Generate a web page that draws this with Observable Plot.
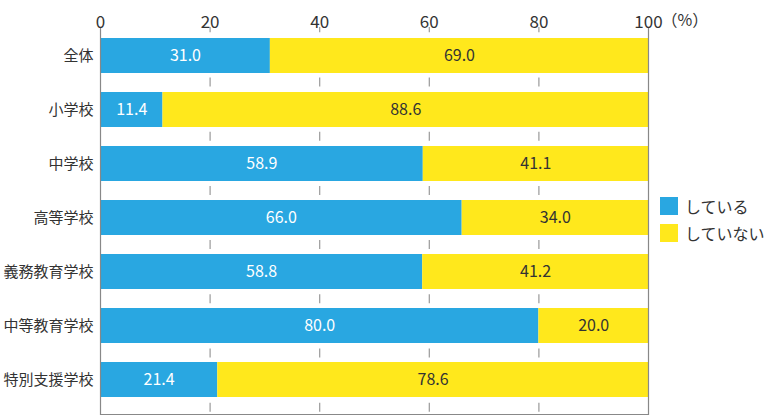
<!DOCTYPE html>
<html>
<head>
<meta charset="utf-8">
<script src="https://cdn.jsdelivr.net/npm/d3@7"></script>
<script src="https://cdn.jsdelivr.net/npm/@observablehq/plot@0.6"></script>
<style>
  body { margin: 0; background: #fff; }
  #wrap { position: relative; width: 768px; height: 420px; font-family: "Noto Sans CJK JP", "Noto Sans", sans-serif; }
  #legend { position: absolute; left: 660px; top: 192px; font-size: 16px; color: #333; white-space: nowrap; width: 108px; }
  .row { display: flex; align-items: center; height: 27px; }
  .sw { width: 18px; height: 18px; margin-right: 7px; flex: none; }
</style>
</head>
<body>
<div id="wrap"></div>
<script>
const categories = ["全体", "小学校", "中学校", "高等学校", "義務教育学校", "中等教育学校", "特別支援学校"];
const doing = [31.0, 11.4, 58.9, 66.0, 58.8, 80.0, 21.4];
const notDoing = [69.0, 88.6, 41.1, 34.0, 41.2, 20.0, 78.6];
const seriesNames = ["している", "していない"];
const seriesColors = ["#29a7e1", "#ffe81c"];
const xTicks = [0, 20, 40, 60, 80, 100];
const gridTicks = [20, 40, 60, 80];
const unitLabel = "（%）";

const rows = [];
categories.forEach((c, i) => {
  rows.push({cat: c, series: seriesNames[0], x1: 0, x2: doing[i], value: doing[i]});
  rows.push({cat: c, series: seriesNames[1], x1: doing[i], x2: doing[i] + notDoing[i], value: notDoing[i]});
});

const chart = Plot.plot({
  width: 768,
  height: 420,
  marginTop: 27,
  marginBottom: 6,
  marginLeft: 100,
  marginRight: 120,
  style: {fontFamily: "'Noto Sans CJK JP', 'Noto Sans', sans-serif", color: "#333", background: "#fff"},
  x: {domain: [0, 100], axis: null},
  y: {domain: categories, range: [27.4, 406.8], paddingInner: 0.354, paddingOuter: 0.177, axis: null},
  color: {domain: seriesNames, range: seriesColors},
  marks: [
    Plot.ruleX(gridTicks, {stroke: "#9a9a9a", strokeWidth: 1.2, strokeDasharray: "9,45.2", strokeDashoffset: 3.7}),
    Plot.barX(rows, {x1: "x1", x2: "x2", y: "cat", fill: "series"}),
    Plot.text(rows, {x: d => (d.x1 + d.x2) / 2, y: "cat", text: d => d.value.toFixed(1),
      fill: d => d.series === seriesNames[0] ? "#ffffff" : "#333333", fontSize: 16}),
    Plot.ruleX([0, 100], {stroke: "#888", strokeWidth: 1.2}),
    Plot.frame({anchor: "bottom", stroke: "#888", strokeWidth: 1.2}),
    Plot.axisX(xTicks, {anchor: "top", tickSize: 0, tickPadding: 0, fontSize: 17, fill: "#333", tickFormat: d => String(d)}),
    Plot.text([100], {x: d => d, frameAnchor: "top", text: () => unitLabel, textAnchor: "start", dx: 13, dy: -2, fontSize: 16, fill: "#333", lineAnchor: "bottom"}),
    Plot.axisY({tickSize: 0, tickPadding: 7, fontSize: 15, fill: "#333", label: null})
  ]
});
document.getElementById("wrap").appendChild(chart);

const legend = document.createElement("div");
legend.id = "legend";
seriesNames.forEach((n, i) => {
  const r = document.createElement("div");
  r.className = "row";
  const s = document.createElement("div");
  s.className = "sw";
  s.style.background = seriesColors[i];
  const t = document.createElement("span");
  t.textContent = n;
  r.appendChild(s); r.appendChild(t);
  legend.appendChild(r);
});
document.getElementById("wrap").appendChild(legend);
</script>
</body>
</html>
